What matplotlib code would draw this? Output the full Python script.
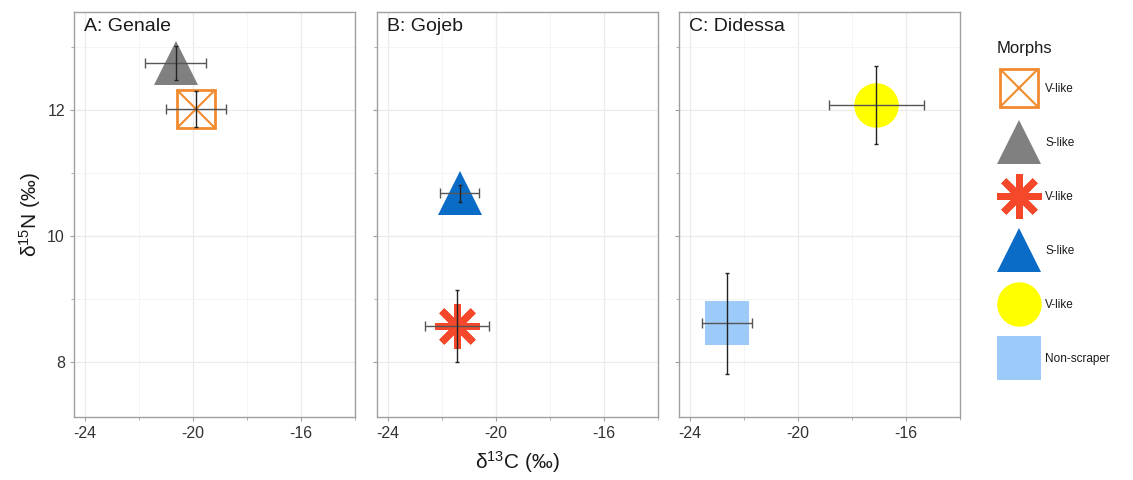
import matplotlib.pyplot as plt
from matplotlib.markers import MarkerStyle

plt.rcParams['font.family'] = ['Liberation Sans', 'DejaVu Sans']
plt.rcParams['axes.unicode_minus'] = False
plt.rcParams['mathtext.default'] = 'regular'

# values
panels = ['A: Genale', 'B: Gojeb', 'C: Didessa']
morph_labels = ['V-like', 'S-like', 'V-like', 'S-like', 'V-like', 'Non-scraper']
panel_of = [0, 0, 1, 1, 2, 2]
d13c = [-19.88, -20.64, -21.43, -21.34, -17.10, -22.62]
d13c_err = [1.12, 1.13, 1.18, 0.72, 1.76, 0.93]
d15n = [12.02, 12.75, 8.58, 10.68, 12.08, 8.62]
d15n_err = [0.29, 0.27, 0.57, 0.13, 0.62, 0.80]

x_ticks = [-24, -20, -16]
x_minor = [-22, -18, -14]
y_ticks = [8, 10, 12]
y_minor = [9, 11, 13]

asterisk = MarkerStyle((8, 2, 0), capstyle='round')

# styles for each morph: (marker, size, face, edge, edge width)
styles = [
    ('sx', 28, 'none', '#F28B30', 2.0),
    ('^', 32, '#808080', '#808080', 0),
    (asterisk, 32, '#F5482A', '#F5482A', 5.0),
    ('^', 32, '#0A6CC6', '#0A6CC6', 0),
    ('o', 32, '#FFFF00', '#FFFF00', 0),
    ('s', 31, '#9CCBFA', '#9CCBFA', 0),
]


def draw_marker(ax, x, y, style, **kw):
    mk, ms, fc, ec, mew = style
    if isinstance(mk, str) and mk == 'sx':
        ax.plot(x, y, marker='s', ms=ms, mfc='none', mec=ec, mew=mew, ls='none', **kw)
        ax.plot(x, y, marker='x', ms=ms, mec=ec, mew=1.5, ls='none', **kw)
    else:
        ax.plot(x, y, marker=mk, ms=ms, mfc=fc, mec=ec, mew=mew, ls='none', **kw)


fig = plt.figure(figsize=(11.33, 4.8), dpi=100)
lefts = [74, 377, 679]
axes = []
for i, left in enumerate(lefts):
    ax = fig.add_axes([left / 1133, 1 - 417 / 480, 281 / 1133, 405 / 480])
    axes.append(ax)
    ax.set_xlim(-24.4, -14.28)
    ax.set_ylim(7.13, 13.56)
    ax.set_xticks(x_ticks)
    ax.set_xticks(x_minor, minor=True)
    ax.set_yticks(y_ticks)
    ax.set_yticks(y_minor, minor=True)
    ax.grid(True, which='major', color='#EBEBEB', lw=0.9, zorder=0)
    ax.grid(True, which='minor', color='#F3F3F3', lw=0.6, zorder=0)
    ax.set_axisbelow(True)
    for s in ax.spines.values():
        s.set_color('#A0A0A0')
        s.set_linewidth(1.0)
    ax.tick_params(which='both', length=3, color='#A0A0A0', labelsize=11.5,
                   labelcolor='#333333')
    ax.tick_params(which='minor', length=2)
    if i > 0:
        ax.tick_params(axis='y', labelleft=False)
    ax.text(0.035, 0.985, panels[i], transform=ax.transAxes, ha='left', va='top',
            fontsize=14, color='#1A1A1A')

for k in range(len(d13c)):
    ax = axes[panel_of[k]]
    draw_marker(ax, d13c[k], d15n[k], styles[k], zorder=3)
    ax.errorbar(d13c[k], d15n[k], xerr=d13c_err[k], fmt='none', ecolor='#555555',
                elinewidth=1.0, capsize=3.5, capthick=1.0, zorder=4)
    ax.errorbar(d13c[k], d15n[k], yerr=d15n_err[k], fmt='none', ecolor='#222222',
                elinewidth=1.0, capsize=1.5, capthick=1.0, zorder=4)

fig.text(30 / 1133, 1 - 215 / 480, r'$\delta^{15}$N (‰)', rotation=90, ha='center',
         va='center', fontsize=15, color='#1A1A1A')
fig.text(517 / 1133, 1 - 462 / 480, r'$\delta^{13}$C (‰)', ha='center', va='center',
         fontsize=15, color='#1A1A1A')

# legend
fig.text(997 / 1133, 1 - 48 / 480, 'Morphs', ha='left', va='center', fontsize=12,
         color='#1A1A1A')
lax = fig.add_axes([990 / 1133, 0, 140 / 1133, 1])
lax.set_xlim(990, 1130)
lax.set_ylim(480, 0)
lax.axis('off')
for k, lab in enumerate(morph_labels):
    yy = 88 + k * 54
    draw_marker(lax, 1019, yy, styles[k], zorder=3)
    lax.text(1045, yy + 1, lab, ha='left', va='center', fontsize=8.5, color='#1A1A1A')

fig.savefig('out.png', dpi=100)
